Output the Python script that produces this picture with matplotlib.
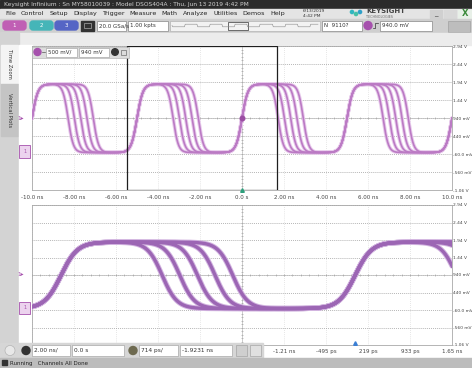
import numpy as np
import matplotlib
matplotlib.use('Agg')
import matplotlib.pyplot as plt
from matplotlib.patches import Rectangle, FancyBboxPatch, Circle

W, H = 472, 368

# waveform (ns / volts)
rise_edges_ns = [-15.0, -10.0, -5.0, 0.0, 5.0, 10.0]
pulse_widths_ns = [1.72, 2.02, 2.32, 2.62, 2.92]
v_high = 1.88
v_low = -0.02
rise_tau_ns = 0.28
fall_tau_ns = 0.25

# scope settings
main_scale_ns = 2.0
main_delay_ns = 0.0
zoom_scale_ns = 0.714
zoom_pos_ns = -1.9231
v_scale = 0.5
v_offset = 0.94
trig_level = 0.94

main_xlabels = ['-10.0 ns', '-8.00 ns', '-6.00 ns', '-4.00 ns', '-2.00 ns', '0.0 s',
                '2.00 ns', '4.00 ns', '6.00 ns', '8.00 ns', '10.0 ns']
# left half of the zoom labels sits under the control bar, so only these show
zoom_xlabels = ['', '', '', '', '', '',
                '-1.21 ns', '-495 ps', '219 ps', '933 ps', '1.65 ns']
ylabels = ['-1.06 V', '-560 mV', '-60.0 mV', '440 mV', '940 mV', '1.44 V', '1.94 V', '2.44 V', '2.94 V']
menu_items = ['File', 'Control', 'Setup', 'Display', 'Trigger', 'Measure', 'Math',
              'Analyze', 'Utilities', 'Demos', 'Help']

ch_color = '#a651ad'
trace_core = ['#bb7ac4', '#9c66b4']
trace_glow = ['#e8cbec', '#d2b4e0']


def px_axes(x0, y0, w, h, **kw):
    return fig.add_axes([x0 / W, 1 - (y0 + h) / H, w / W, h / H], **kw)


def trace(t, width):
    v = np.zeros_like(t)
    for r in rise_edges_ns:
        up = 0.5 * (1 + np.tanh((t - r) / rise_tau_ns))
        down = 0.5 * (1 + np.tanh((t - r - width) / fall_tau_ns))
        v += up * (1 - down)
    return v_low + (v_high - v_low) * v


fig = plt.figure(figsize=(W / 100, H / 100), dpi=100)
renderer = fig.canvas.get_renderer()

# ---- window chrome underneath ----
bg = px_axes(0, 0, W, H)
bg.set_xlim(0, W)
bg.set_ylim(H, 0)
bg.axis('off')
bg.add_patch(Rectangle((0, 0), W, H, color='white'))
bg.add_patch(Rectangle((0, 0), W, 8.5, color='#2b2b2b'))
bg.text(4, 4.5, 'Keysight Infiniium : Sn MY58010039 : Model DSOS404A : Thu, Jun 13 2019 4:42 PM',
        fontsize=4.2, color='#d0d0d0', va='center')
bg.add_patch(Rectangle((0, 8.5), W, 10, color='#e4e4e4'))
xm = 5
for m in menu_items:
    tx = bg.text(xm, 13.8, m, fontsize=4.6, color='#222', va='center')
    xm += tx.get_window_extent(renderer).width + 5
bg.text(303, 11.5, '6/13/2019', fontsize=3.2, color='#333', va='center')
bg.text(303, 16, '4:42 PM', fontsize=3.2, color='#333', va='center')
for i, c in enumerate(['#31b6c0', '#45c1a8', '#2fa0c8']):
    bg.add_patch(Circle((352 + i * 4, 12 + (i % 2) * 2), 1.6, color=c))
bg.text(366, 11.0, 'KEYSIGHT', fontsize=5.0, fontweight='bold', color='#444', va='center')
bg.text(366, 16.6, 'TECHNOLOGIES', fontsize=2.4, color='#666', va='center')
bg.add_patch(Rectangle((430, 10), 12, 8, color='#d0d0d0'))
bg.text(436, 14, '_', fontsize=5, ha='center', va='center', color='#333')
bg.add_patch(Rectangle((444, 10), 12, 8, color='#d8d8d8'))
bg.add_patch(Rectangle((458, 9.5), 14, 9, color='#e8f0e8'))
bg.text(465, 14, 'X', fontsize=6, fontweight='bold', ha='center', va='center', color='#3a8a3a')

# toolbar
bg.add_patch(Rectangle((0, 18.5), W, 14.5, color='#cfcfcf'))
for x0, c, lab in [(3, '#c05fb4', '1'), (30, '#45b5b8', '2'), (55, '#5565c5', '3')]:
    bg.add_patch(FancyBboxPatch((x0, 21), 23, 9, boxstyle='round,pad=0,rounding_size=3', color=c))
    bg.text(x0 + 11.5, 25.5, lab, fontsize=4, color='white', ha='center', va='center')
bg.add_patch(Rectangle((81, 20.5), 13, 10, color='#333'))
bg.add_patch(Rectangle((84, 23), 7, 5, fill=False, ec='#aaa', lw=0.5))
for x0, w, lab in [(97, 29, '20.0 GSa/s'), (128, 40, '1.00 kpts'), (322, 40, 'N  9110?'), (380, 52, '940.0 mV')]:
    bg.add_patch(Rectangle((x0, 20.5), w, 10, fc='white', ec='#888', lw=0.5))
    bg.text(x0 + 2, 25.5, lab, fontsize=4, color='#333', va='center')
bg.add_patch(Rectangle((170, 20.5), 150, 10, fc='#f2f2f2', ec='#aaa', lw=0.4))
sq = np.linspace(172, 318, 200)
bg.plot(sq, 25.5 + 1.3 * np.sign(np.sin((sq - 172) / 4.0)), color='#8a8a8a', lw=0.4)
bg.add_patch(Rectangle((228, 21.5), 20, 8, fill=False, ec='#333', lw=0.5))
bg.add_patch(Circle((368, 25.5), 4, color=ch_color))
bg.plot([373, 375, 375, 378], [28, 28, 23, 23], color='#333', lw=0.5)
bg.add_patch(Rectangle((448, 20.5), 22, 11, fc='#bdbdbd', ec='#999', lw=0.4))

# strip under toolbar, left tabs
bg.add_patch(Rectangle((0, 33), W, 12, color='#ececec'))
bg.add_patch(Rectangle((0, 33), 19, 325, color='#d3d3d3'))
bg.add_patch(Rectangle((1, 45), 17, 38, color='#f4f4f4'))
bg.add_patch(Rectangle((1, 84), 17, 52, color='#c4c4c4'))
bg.text(9.5, 64, 'Time Zoom', fontsize=3.8, rotation=270, ha='center', va='center', color='#333')
bg.text(9.5, 110, 'Vertical Plots', fontsize=3.8, rotation=270, ha='center', va='center', color='#333')
bg.add_patch(Rectangle((19, 45), 13, 300, color='white'))

# ---- the two scope grids ----
ax1 = px_axes(32, 46, 420, 144)
ax2 = px_axes(32, 205, 420, 140)

y_ticks = [v_offset + k * v_scale for k in range(-4, 5)]
panels = [
    (ax1, main_delay_ns, main_scale_ns, main_xlabels, 3.3),
    (ax2, zoom_pos_ns, zoom_scale_ns, zoom_xlabels, 2.6),
]
for i, (ax, center, scale, xlabs, pad) in enumerate(panels):
    x0, x1 = center - 5 * scale, center + 5 * scale
    ax.set_xlim(x0, x1)
    ax.set_ylim(y_ticks[0], y_ticks[-1])
    ax.set_xticks([center + k * scale for k in range(-5, 6)])
    ax.set_xticklabels(xlabs)
    ax.set_yticks(y_ticks)
    ax.set_yticklabels(ylabels)
    ax.yaxis.tick_right()
    ax.tick_params(axis='x', length=0, labelsize=4.0, pad=pad, colors='#444')
    ax.tick_params(axis='y', length=0, labelsize=3.2, pad=1.0, colors='#444')
    ax.grid(axis='y', color='#8c8c8c', linestyle=(0, (1.2, 1.6)), lw=0.5)
    ax.grid(axis='x', color='#cfcfcf', linestyle=(0, (1, 2)), lw=0.5)
    for s in ax.spines.values():
        s.set_color('#a8a8a8')
        s.set_linewidth(0.6)
    ax.axvline(center, color='#bdbdbd', lw=0.5)
    ax.axhline(v_offset, color='#bdbdbd', lw=0.5)
    sub_x = [center + k * scale / 5 for k in range(-25, 26)]
    ax.plot(sub_x, [v_offset] * len(sub_x), '|', ms=1.6, mew=0.4, color='#9a9a9a')
    sub_y = [v_offset + k * v_scale / 5 for k in range(-20, 21)]
    ax.plot([center] * len(sub_y), sub_y, '_', ms=1.6, mew=0.4, color='#9a9a9a')

    t = np.linspace(x0, x1, 3000)
    for w in pulse_widths_ns:
        v = trace(t, w)
        ax.plot(t, v, color=trace_glow[i], lw=[2.6, 3.8][i], solid_capstyle='round', zorder=3)
    for w in pulse_widths_ns:
        v = trace(t, w)
        ax.plot(t, v, color=trace_core[i], lw=[1.2, 2.4][i], zorder=4)

    # channel markers at left
    tr = ax.get_yaxis_transform()
    ax.text(-0.028, v_offset, '1\u25b8', transform=tr, fontsize=4.2, color=ch_color,
            ha='center', va='center', clip_on=False)
    ax.add_patch(Rectangle((-0.03, 0.0 - 0.18), 0.026, 0.36, transform=tr, fc='#ecd3ee',
                           ec=ch_color, lw=0.6, clip_on=False, zorder=6))
    ax.text(-0.017, 0.0, '1', transform=tr, fontsize=3.6, color=ch_color,
            ha='center', va='center', clip_on=False, zorder=7)

# zoom window and trigger marks on the main grid
ax1.add_patch(Rectangle((zoom_pos_ns - 5 * zoom_scale_ns, y_ticks[0]), 10 * zoom_scale_ns,
                        8 * v_scale, fill=False, ec='#1e1e1e', lw=0.9, zorder=5))
ax1.plot(0, trig_level, 'o', ms=3.3, color='#9b4ea3', zorder=6)
ax1.plot(0, y_ticks[0], '^', ms=2.6, color='#2e9f7c', clip_on=False, zorder=6)
ax2.plot(0, y_ticks[0] + 0.06, '^', ms=2.6, color='#3b7fd4', clip_on=False, zorder=6)

# ---- overlays on top: channel box, bottom bar, status ----
ov = px_axes(0, 0, W, H)
ov.set_xlim(0, W)
ov.set_ylim(H, 0)
ov.axis('off')
ov.patch.set_alpha(0)

ov.add_patch(Rectangle((32, 46.5), 97, 11, fc='#dcdcdc', ec='#aaa', lw=0.4))
ov.add_patch(Circle((37.5, 52), 3.5, color=ch_color))
ov.plot([41.5, 45], [52, 52], color='#555', lw=0.5)
for x0, w, lab in [(46, 31, '500 mV/'), (79, 30, '940 mV')]:
    ov.add_patch(Rectangle((x0, 47.5), w, 9, fc='white', ec='#999', lw=0.4))
    ov.text(x0 + 2, 52, lab, fontsize=4, color='#333', va='center')
ov.add_patch(Circle((115, 52), 3.3, color='#333'))
ov.add_patch(Rectangle((121, 49.5), 5, 5, fill=False, ec='#555', lw=0.4))

ov.add_patch(Rectangle((0, 343), 263, 15, color='#d6d6d6'))
ov.add_patch(Circle((10, 350.5), 5, fc='#e8e8e8', ec='#aaa', lw=0.4))
ov.add_patch(Circle((26, 350.5), 4, color='#333'))
ov.add_patch(Circle((133, 350.5), 4, color='#6e6a50'))
for x0, w, lab in [(32, 38, '2.00 ns/'), (72, 52, '0.0 s'), (139, 39, '714 ps/'), (180, 52, '-1.9231 ns')]:
    ov.add_patch(Rectangle((x0, 345), w, 11, fc='white', ec='#999', lw=0.4))
    ov.text(x0 + 2, 350.5, lab, fontsize=4.2, color='#333', va='center')
ov.add_patch(Rectangle((236, 345), 11, 11, fc='#cfcfcf', ec='#999', lw=0.4))
ov.add_patch(Rectangle((250, 345), 11, 11, fc='#e0e0e0', ec='#999', lw=0.4))

ov.add_patch(Rectangle((0, 358), W, 10, color='#bcbcbc'))
ov.add_patch(Rectangle((2, 360), 5, 5, color='#333'))
ov.text(10, 363, 'Running   Channels All Done', fontsize=4, color='#222', va='center')

fig.savefig('out.png', dpi=100)
